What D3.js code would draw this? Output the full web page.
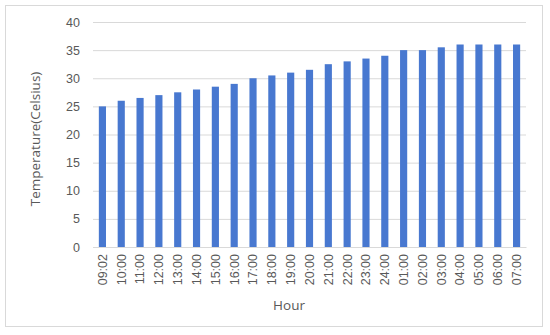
<!DOCTYPE html>
<html>
<head>
<meta charset="utf-8">
<script src="https://cdn.jsdelivr.net/npm/d3@7"></script>
<style>
	body { margin: 0; background: #fff; }
	svg { font-family: 'Open Sans', 'Liberation Sans', sans-serif; }
</style>
</head>
<body>
<svg width="550" height="335"></svg>
<script>
const hours = ['09:02', '10:00', '11:00', '12:00', '13:00', '14:00', '15:00', '16:00',
	'17:00', '18:00', '19:00', '20:00', '21:00', '22:00', '23:00', '24:00',
	'01:00', '02:00', '03:00', '04:00', '05:00', '06:00', '07:00']
const temps = [25, 26, 26.5, 27, 27.5, 28, 28.5, 29, 30, 30.5, 31, 31.5,
	32.5, 33, 33.5, 34, 35, 35, 35.5, 36, 36, 36, 36]
const yTicks = [0, 5, 10, 15, 20, 25, 30, 35, 40]

let svg = d3.select('svg')

svg.append('rect')
.attr('x', 5.5).attr('y', 5.5)
.attr('width', 537).attr('height', 321)
.attr('fill', '#fff')
.attr('stroke', '#d9d9d9')

let m = {left: 93, right: 526, top: 22, bottom: 247}

let x = d3.scaleBand()
.domain(hours)
.range([m.left, m.right])
.paddingInner(0.62)
.paddingOuter(0.31)

let y = d3.scaleLinear()
.domain([0, 40])
.range([m.bottom, m.top])

// gridlines + y labels
let gy = svg.append('g')
.attr('transform', `translate(${m.left},0)`)
.call(d3.axisLeft(y).tickValues(yTicks).tickSize(-(m.right - m.left)).tickPadding(13))
gy.select('.domain').remove()
gy.selectAll('.tick line').attr('stroke', '#d9d9d9')
gy.selectAll('.tick text')
.attr('fill', '#595959')
.attr('font-size', 12.5)

svg.append('g')
.selectAll('rect')
.data(temps).enter()
.append('rect')
.attr('x', (d, i) => x(hours[i]))
.attr('y', d => y(d))
.attr('width', x.bandwidth())
.attr('height', d => y(0) - y(d))
.attr('fill', '#4878d0')

// x axis
let gx = svg.append('g')
.attr('transform', `translate(0,${m.bottom})`)
.call(d3.axisBottom(x).tickSize(0).tickPadding(0))
gx.select('.domain').attr('stroke', '#d9d9d9')
gx.selectAll('.tick text')
.attr('fill', '#595959')
.attr('font-size', 12.5)
.attr('text-anchor', 'end')
.attr('dy', '0.35em')
.attr('transform', 'translate(0,7) rotate(-90)')
.attr('x', 0).attr('y', 0)

svg.append('text')
.attr('x', 289).attr('y', 310)
.attr('text-anchor', 'middle')
.attr('fill', '#595959')
.attr('font-size', 13.5)
.text('Hour')

svg.append('text')
.attr('transform', 'translate(40,139) rotate(-90)')
.attr('text-anchor', 'middle')
.attr('fill', '#595959')
.attr('font-size', 13.5)
.text('Temperature(Celsius)')
</script>
</body>
</html>
